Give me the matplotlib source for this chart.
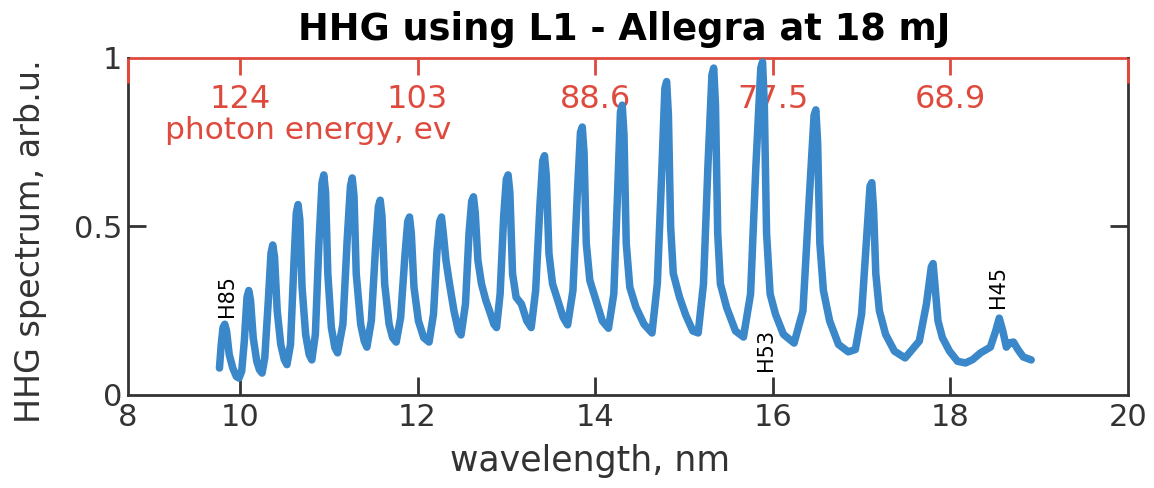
import matplotlib.pyplot as plt

# spectrum (wavelength in nm, signal in arb.u.)
wavelength = [
    9.77, 9.79, 9.81, 9.83, 9.85, 9.88, 9.92, 9.96, 9.99,
    10.02, 10.05, 10.08, 10.10, 10.12, 10.15, 10.19, 10.22, 10.25,
    10.28, 10.32, 10.35, 10.37, 10.39, 10.42, 10.46, 10.50, 10.53,
    10.57, 10.61, 10.635, 10.655, 10.675, 10.70, 10.74, 10.78, 10.81,
    10.85, 10.89, 10.925, 10.945, 10.965, 10.99, 11.03, 11.07, 11.10,
    11.16, 11.21, 11.245, 11.265, 11.285, 11.31, 11.36, 11.40, 11.43,
    11.48, 11.53, 11.56, 11.58, 11.60, 11.63, 11.68, 11.72, 11.76,
    11.81, 11.86, 11.89, 11.91, 11.93, 11.96, 12.01, 12.07, 12.13,
    12.18, 12.22, 12.25, 12.27, 12.29, 12.32, 12.36, 12.41, 12.46, 12.49,
    12.54, 12.58, 12.61, 12.63, 12.65, 12.68, 12.72, 12.77, 12.81, 12.86,
    12.89,
    12.93, 12.97, 13.00, 13.02, 13.04, 13.07, 13.11, 13.17, 13.23, 13.28,
    13.33, 13.38, 13.41, 13.43, 13.45, 13.48, 13.52, 13.58, 13.64, 13.69,
    13.75, 13.80, 13.835, 13.855, 13.875, 13.90, 13.94, 14.01, 14.08, 14.15,
    14.21, 14.25, 14.285, 14.305, 14.325, 14.35, 14.39, 14.46, 14.55, 14.64,
    14.70, 14.75, 14.785, 14.805, 14.825, 14.85, 14.88, 14.95, 15.02, 15.10,
    15.16,
    15.22, 15.27, 15.315, 15.335, 15.355, 15.38, 15.41, 15.48, 15.58, 15.67,
    15.75, 15.81, 15.865, 15.885, 15.905, 15.93, 15.97, 16.03, 16.12, 16.24,
    16.34, 16.41, 16.465, 16.485, 16.505, 16.53, 16.57, 16.64, 16.74, 16.85,
    16.93,
    17.00, 17.06, 17.095, 17.115, 17.135, 17.16, 17.20, 17.27, 17.37, 17.49,
    17.65, 17.73, 17.785, 17.805, 17.825, 17.86, 17.91, 17.99, 18.08, 18.17,
    18.25, 18.34, 18.45, 18.51, 18.55, 18.59, 18.63, 18.67, 18.71, 18.76,
    18.82, 18.91,
]
signal = [
    0.08, 0.15, 0.20, 0.21, 0.19, 0.12, 0.08, 0.055, 0.05,
    0.07, 0.16, 0.29, 0.31, 0.28, 0.17, 0.10, 0.075, 0.065,
    0.11, 0.28, 0.42, 0.445, 0.41, 0.25, 0.15, 0.105, 0.09,
    0.15, 0.40, 0.54, 0.565, 0.52, 0.32, 0.18, 0.12, 0.104,
    0.18, 0.45, 0.63, 0.653, 0.60, 0.36, 0.20, 0.14, 0.125,
    0.21, 0.47, 0.62, 0.644, 0.59, 0.36, 0.21, 0.16, 0.142,
    0.22, 0.45, 0.56, 0.578, 0.53, 0.33, 0.21, 0.17, 0.157,
    0.23, 0.42, 0.515, 0.528, 0.48, 0.32, 0.22, 0.17, 0.157,
    0.24, 0.43, 0.515, 0.528, 0.48, 0.40, 0.33, 0.25, 0.19, 0.178,
    0.27, 0.48, 0.575, 0.588, 0.54, 0.40, 0.33, 0.28, 0.25, 0.21,
    0.20,
    0.30, 0.53, 0.64, 0.653, 0.60, 0.36, 0.29, 0.27, 0.22, 0.20,
    0.31, 0.57, 0.695, 0.71, 0.65, 0.42, 0.33, 0.28, 0.23, 0.208,
    0.31, 0.60, 0.78, 0.795, 0.72, 0.45, 0.34, 0.28, 0.22, 0.198,
    0.30, 0.58, 0.84, 0.86, 0.77, 0.45, 0.32, 0.26, 0.21, 0.184,
    0.33, 0.66, 0.91, 0.93, 0.83, 0.50, 0.36, 0.29, 0.237, 0.19,
    0.184,
    0.33, 0.68, 0.95, 0.97, 0.86, 0.48, 0.33, 0.26, 0.19, 0.172,
    0.30, 0.68, 0.97, 0.988, 0.86, 0.48, 0.30, 0.24, 0.18, 0.154,
    0.25, 0.58, 0.83, 0.846, 0.75, 0.45, 0.31, 0.22, 0.15, 0.128,
    0.135,
    0.24, 0.48, 0.62, 0.63, 0.55, 0.36, 0.25, 0.18, 0.13, 0.11,
    0.16, 0.27, 0.38, 0.39, 0.33, 0.22, 0.17, 0.13, 0.10, 0.095,
    0.105, 0.125, 0.142, 0.19, 0.228, 0.19, 0.142, 0.155, 0.157, 0.135,
    0.113, 0.104,
]

# bottom axis (left end of the axis is labelled 8 in the original)
wl_ticks = [8.74, 10, 12, 14, 16, 18, 20]
wl_labels = ['8', '10', '12', '14', '16', '18', '20']
y_ticks = [0, 0.5, 1]
y_labels = ['0', '0.5', '1']

# top axis: photon energy at 10, 12, ... 18 nm
energy_at_wl = [10, 12, 14, 16, 18]
energy_labels = ['124', '103', '88.6', '77.5', '68.9']

harmonics = ['H85', 'H53', 'H45']
harmonic_x = [9.85, 15.92, 18.54]
harmonic_y = [0.295, 0.135, 0.32]

blue = '#3a87c9'
red = '#de4a3d'
dark = '#333333'

fig = plt.figure(figsize=(11.54, 4.88), dpi=100)
ax = fig.add_axes([0.1109, 0.1906, 0.8666, 0.6906])

ax.plot(wavelength, signal, color=blue, lw=5.4, solid_joinstyle='round',
        solid_capstyle='round')

ax.set_xlim(8.74, 20)
ax.set_ylim(0, 1)
ax.set_xticks(wl_ticks, wl_labels)
ax.set_yticks(y_ticks, y_labels)
ax.tick_params(direction='in', length=13, width=2, labelsize=22,
               colors=dark, right=True, top=False)
ax.tick_params(axis='x', pad=6)
ax.tick_params(axis='y', pad=4)
# ticks that sit on the box corners are not drawn
for i in [0, 2]:
    t = ax.yaxis.get_major_ticks()[i]
    t.tick1line.set_visible(False)
    t.tick2line.set_visible(False)
for i in [0, 6]:
    ax.xaxis.get_major_ticks()[i].tick1line.set_visible(False)
for s in ['left', 'right', 'bottom']:
    ax.spines[s].set_color(dark)
    ax.spines[s].set_linewidth(2)
ax.spines['top'].set_visible(False)

ax.set_xlabel('wavelength, nm', fontsize=25, color=dark)
ax.xaxis.set_label_coords(0.462, -0.145)
ax.set_ylabel('HHG spectrum, arb.u.', fontsize=24, color=dark)
ax.yaxis.set_label_coords(-0.081, 0.457)
ax.set_title('HHG using L1 - Allegra at 18 mJ', fontsize=26.5,
             fontweight='bold', pad=13, x=0.496)

for name, hx, hy in zip(harmonics, harmonic_x, harmonic_y):
    ax.text(hx, hy, name, rotation=90, fontsize=15, ha='center',
            va='center', color='black')

# photon energy axis
ev = 1239.84
sec = ax.secondary_xaxis('top', functions=(lambda w: ev / w,
                                            lambda e: ev / e))
sec.set_xticks([ev / w for w in energy_at_wl], energy_labels)
sec.tick_params(direction='in', length=12, width=2, colors=red,
                labelsize=23, pad=-41)
sec.spines['top'].set_color(red)
sec.spines['top'].set_linewidth(2)
ax.text(0.18, 0.785, 'photon energy, ev', transform=ax.transAxes,
        fontsize=22.5, color=red, ha='center', va='center')

# short red bits of the top box on both sides
for xs in [0, 1]:
    ax.plot([xs, xs], [0.925, 1], transform=ax.transAxes, color=red,
            lw=2.2, clip_on=False, solid_capstyle='butt', zorder=5)

fig.savefig('out.png', dpi=100)
